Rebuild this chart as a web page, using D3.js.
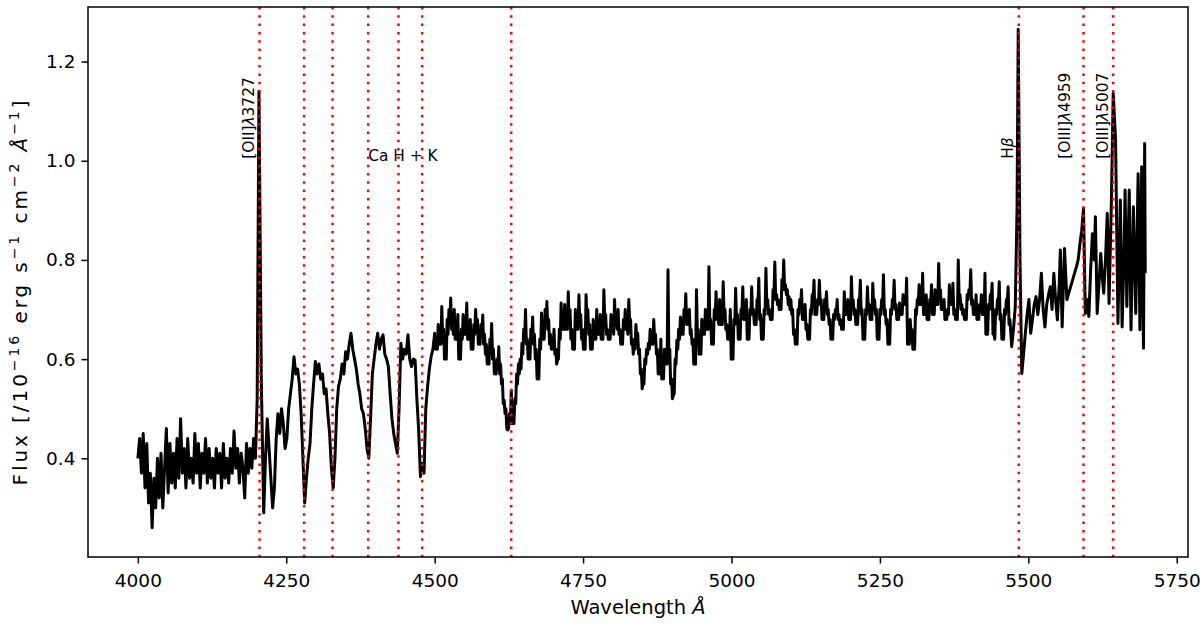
<!DOCTYPE html>
<html><head><meta charset="utf-8">
<script src="https://cdn.jsdelivr.net/npm/d3@7/dist/d3.min.js"></script>
<style>body{margin:0;background:#fff}text{font-family:"DejaVu Sans",sans-serif}</style>
</head><body>
<svg id="chart" width="1200" height="627"></svg>
<script>
// ---- data ----
const xTicks = [4000, 4250, 4500, 4750, 5000, 5250, 5500, 5750];
const yTicks = [0.4, 0.6, 0.8, 1.0, 1.2];
const lineWaves = [4205, 4280, 4328, 4388, 4439, 4479, 4629, 5484, 5593, 5643];
const lineLabels = [["[OII]", "λ", "3727"], ["H", "β", ""], ["[OIII]", "λ", "4959"], ["[OIII]", "λ", "5007"]];
const lineLabelWaves = [4196, 5474, 5570, 5635];
const caLabel = "Ca H + K";
const caLabelWave = 4388;
const labelFlux = 1.0;
// spectrum: [wavelength (Å), flux]
const spectrumMain = [
[4000,.40],[4003,.44],[4006,.37],[4009,.45],[4012,.34],[4015,.43],[4018,.31],[4021,.37],[4024,.26],[4027,.36],
[4030,.30],[4033,.40],[4036,.32],[4039,.41],[4042,.30],[4045,.38],[4048,.46],[4051,.33],[4054,.43],[4057,.35],
[4060,.41],[4063,.34],[4066,.44],[4069,.36],[4072,.48],[4075,.37],[4078,.42],[4081,.34],[4084,.44],[4087,.36],
[4090,.40],[4093,.35],[4096,.45],[4099,.37],[4102,.43],[4105,.34],[4108,.41],[4111,.37],[4114,.44],[4117,.35],
[4120,.42],[4123,.36],[4126,.40],[4129,.34],[4132,.42],[4135,.37],[4138,.41],[4141,.34],[4144,.43],[4147,.36],
[4150,.40],[4153,.35],[4156,.42],[4159,.37],[4162,.455],[4165,.38],[4168,.42],[4171,.35],[4174,.41],[4177,.38],
[4180,.32],[4183,.43],[4186,.37],[4189,.42],[4192,.38],[4195,.44],[4198,.40],[4201,.52],[4204,1.14],[4208,.55],
[4212,.29],[4215,.40],[4218,.48],[4221,.42],[4224,.36],[4227,.30],[4230,.34],[4233,.44],[4236,.49],[4239,.45],
[4242,.50],[4245,.47],[4248,.42],[4251,.44],[4254,.50],[4257,.53],[4260,.56],[4263,.605],[4266,.57],[4269,.58],
[4272,.55],[4275,.49],[4278,.40],[4281,.31],[4284,.36],[4287,.40],[4290,.43],[4293,.50],[4296,.55],[4299,.595],
[4302,.57],[4305,.59],[4308,.56],[4311,.57],[4314,.53],[4317,.54],[4320,.49],[4323,.45],[4326,.38],[4329,.34],
[4332,.40],[4335,.50],[4338,.545],[4341,.56],[4344,.59],[4347,.57],[4350,.615],[4353,.60],[4356,.63],[4359,.652],
[4362,.62],[4365,.60],[4368,.58],[4371,.55],[4374,.53],[4377,.50],[4380,.49],[4383,.46],[4386,.42],[4389,.40],
[4392,.48],[4395,.57],[4398,.60],[4401,.63],[4404,.652],[4407,.62],[4410,.64],[4413,.649],[4416,.61],[4419,.60],
[4422,.585],[4425,.53],[4428,.48],[4431,.45],[4434,.43],[4437,.41],[4440,.50],[4443,.632],[4446,.60],[4449,.62],
[4452,.61],[4455,.649],[4458,.60],[4461,.585],[4464,.60],[4467,.598],[4470,.52],[4473,.457],[4476,.363],[4479,.39],
[4482,.37],[4485,.50],[4488,.544],[4491,.58],[4494,.605],[4497,.62],[4500,.652],[4503,.64],[4506,.67],[4509,.65],
[4512,.706],[4515,.66],[4518,.611],[4521,.68],[4524,.70],[4527,.723],[4530,.68],[4533,.70],[4536,.66],[4539,.69],
[4542,.605],[4545,.66],[4548,.69],[4551,.67],[4554,.713],[4557,.66],[4560,.68],[4563,.632],[4566,.67],[4569,.70],
[4572,.68],[4575,.65],[4578,.67],[4581,.689],[4584,.65],[4587,.63],[4590,.598],[4593,.64],[4596,.672],[4599,.62],
[4602,.578],[4605,.60],[4608,.625],[4611,.59],[4614,.56],[4617,.517],[4620,.50],[4623,.457],[4626,.49],[4629,.537],
[4632,.47],[4635,.52],[4638,.57],[4641,.59],[4644,.60],[4647,.632],[4650,.66],[4653,.70],[4656,.64],[4659,.618],
[4662,.66],[4665,.685],[4668,.65],[4671,.62],[4674,.564],[4677,.64],[4680,.693],[4683,.66],[4686,.70],[4689,.716],
[4692,.68],[4695,.65],[4698,.638],[4701,.66],[4704,.62],[4707,.598],[4710,.66],[4713,.713],[4716,.69],[4719,.71],
[4722,.68],[4725,.736],[4728,.70],[4731,.66],[4734,.632],[4737,.70],[4740,.68],[4743,.73],[4746,.69],[4749,.66],
[4752,.632],[4755,.73],[4758,.70],[4761,.67],[4764,.625],[4767,.68],[4770,.66],[4773,.70],[4776,.67],[4779,.69],
[4782,.652],[4785,.74],[4788,.69],[4791,.66],[4794,.652],[4797,.69],[4800,.67],[4803,.72],[4806,.68],[4809,.70],
[4812,.66],[4815,.638],[4818,.68],[4821,.70],[4824,.67],[4827,.72],[4830,.68],[4833,.64],[4836,.625],[4839,.67],
[4842,.652],[4845,.62],[4848,.58],[4851,.551],[4854,.60],[4857,.62],[4860,.632],[4863,.66],[4866,.64],[4869,.68],
[4872,.65],[4875,.62],[4878,.574],[4881,.64],[4884,.564],[4887,.62],[4890,.60],[4893,.78],[4896,.62],[4899,.56],
[4902,.527],[4905,.60],[4908,.638],[4911,.66],[4914,.685],[4917,.67],[4920,.70],[4923,.732],[4926,.69],[4929,.70],
[4932,.66],[4935,.64],[4938,.591],[4941,.74],[4944,.66],[4947,.618],[4950,.68],[4953,.66],[4956,.70],[4959,.67],
[4962,.786],[4965,.68],[4968,.638],[4971,.70],[4974,.736],[4977,.69],[4980,.72],[4983,.68],[4986,.756],[4989,.70],
[4992,.67],[4995,.652],[4998,.70],[5001,.608],[5004,.68],[5007,.743],[5010,.69],[5013,.652],[5016,.70],[5019,.746],
[5022,.69],[5025,.72],[5028,.652],[5031,.70],[5034,.746],[5037,.70],[5040,.68],[5043,.72],[5046,.763],[5049,.69],
[5052,.649],[5055,.70],[5058,.783],[5061,.72],[5064,.70],[5067,.693],[5070,.74],[5073,.796],[5076,.73],[5079,.72],
[5082,.706],[5085,.76],[5088,.80],[5091,.75],[5094,.74],[5097,.726],[5100,.72],[5103,.70],[5106,.66],[5109,.638],
[5112,.70],[5115,.72],[5118,.74],[5121,.69],[5124,.71],[5127,.67],[5130,.645],[5133,.70],[5136,.73],[5139,.759],
[5142,.70],[5145,.72],[5148,.759],[5151,.72],[5154,.693],[5157,.72],[5160,.736],[5163,.70],[5166,.68],[5169,.649],
[5172,.69],[5175,.70],[5178,.72],[5181,.69],[5184,.68],[5187,.672],[5190,.736],[5193,.70],[5196,.72],[5199,.69],
[5202,.766],[5205,.72],[5208,.70],[5211,.679],[5214,.72],[5217,.759],[5220,.70],[5223,.649],[5226,.70],[5229,.746],
[5232,.71],[5235,.69],[5238,.753],[5241,.72],[5244,.70],[5247,.652],[5250,.70],[5253,.72],[5256,.77],[5259,.70],
[5262,.68],[5265,.638],[5268,.70],[5271,.72],[5274,.759],[5277,.71],[5280,.69],[5283,.713],[5286,.70],[5289,.73],
[5292,.72],[5295,.763],[5298,.638],[5301,.68],[5304,.66],[5307,.632],[5310,.70],[5313,.72],[5316,.75],[5319,.72],
[5322,.773],[5325,.70],[5328,.73],[5331,.69],[5334,.72],[5337,.75],[5340,.70],[5343,.74],[5346,.72],[5349,.793],
[5352,.74],[5355,.71],[5358,.72],[5361,.686],[5364,.70],[5367,.75],[5370,.72],[5373,.753],[5376,.70],[5379,.69],
[5382,.80],[5385,.73],[5388,.71],[5391,.70],[5394,.686],[5397,.73],[5400,.74],[5403,.78],[5406,.72],[5409,.70],
[5412,.73],[5415,.686],[5418,.71],[5421,.73],[5424,.70],[5427,.773],[5430,.66],[5433,.71],[5436,.73],[5439,.753],
[5442,.652],[5445,.70],[5448,.72],[5451,.756],[5454,.69],[5457,.652],[5460,.70],[5463,.72],[5466,.746],[5469,.68],
[5472,.625],[5475,.66],[5478,.706],[5481,.90],[5483,1.265],[5486,.80],[5489,.571],[5492,.61],[5495,.652],[5498,.69],
[5501,.72],[5504,.652],[5507,.68],[5510,.71],[5513,.726],[5516,.69],[5519,.72],[5522,.773],[5525,.70],[5528,.665],
[5531,.71],[5534,.73],[5537,.746],[5540,.70],[5543,.773],[5546,.72],[5549,.679],[5552,.75],[5554,.82],[5557,.665],
[5561,.823],[5565,.72],[5581,.786],[5584,.80],[5587,.833],[5590,.86],[5593,.904],[5596,.692],[5599,.72],[5602,.686],
[5605,.78],[5608,.853],[5611,.80],[5613,.887],[5616,.692],[5619,.75],[5622,.813],[5625,.76],[5627,.733],[5630,.80],
[5633,.894],[5636,.712],[5640,.921],[5643,1.136],[5647,1.042],[5651,.672],[5655,.921],[5658,.665],[5661,.80],[5663,.941],
[5666,.706],[5670,.941],[5673,.659],[5677,.907],[5681,.692],[5685,.974],[5688,.659],[5691,.988],[5694,.622],[5696,1.035],
[5697,.773]
];
// extra noise-floor samples between the main ones (continuum 4500-5470 Å)
const spectrumExtra = [
[4501.5,.62],[4504.5,.62],[4507.5,.63],[4510.5,.63],[4513.5,.64],[4516.5,.60],[4519.5,.60],[4522.5,.65],[4525.5,.67],[4528.5,.66],
[4531.5,.65],[4534.5,.64],[4537.5,.64],[4540.5,.60],[4543.5,.60],[4546.5,.64],[4549.5,.65],[4552.5,.65],[4555.5,.64],[4558.5,.64],
[4561.5,.62],[4564.5,.62],[4567.5,.65],[4570.5,.66],[4573.5,.63],[4576.5,.63],[4579.5,.65],[4582.5,.63],[4585.5,.61],[4588.5,.59],
[4591.5,.59],[4594.5,.62],[4597.5,.60],[4600.5,.57],[4603.5,.57],[4606.5,.58],[4609.5,.57],[4612.5,.55],[4615.5,.51],[4618.5,.49],
[4621.5,.46],[4624.5,.46],[4627.5,.47],[4630.5,.47],[4633.5,.47],[4636.5,.51],[4639.5,.55],[4642.5,.57],[4645.5,.58],[4648.5,.61],
[4651.5,.64],[4654.5,.63],[4657.5,.60],[4660.5,.60],[4663.5,.64],[4666.5,.63],[4669.5,.60],[4672.5,.56],[4675.5,.56],[4678.5,.62],
[4681.5,.64],[4684.5,.64],[4687.5,.67],[4690.5,.66],[4693.5,.63],[4696.5,.62],[4699.5,.62],[4702.5,.61],[4705.5,.59],[4708.5,.60],
[4711.5,.64],[4714.5,.66],[4717.5,.66],[4720.5,.66],[4723.5,.66],[4726.5,.67],[4729.5,.64],[4732.5,.62],[4735.5,.62],[4738.5,.66],
[4741.5,.66],[4744.5,.67],[4747.5,.64],[4750.5,.62],[4753.5,.62],[4756.5,.68],[4759.5,.65],[4762.5,.62],[4765.5,.62],[4768.5,.64],
[4771.5,.64],[4774.5,.65],[4777.5,.65],[4780.5,.64],[4783.5,.64],[4786.5,.68],[4789.5,.65],[4792.5,.64],[4795.5,.64],[4798.5,.66],
[4801.5,.65],[4804.5,.67],[4807.5,.66],[4810.5,.65],[4813.5,.63],[4816.5,.63],[4819.5,.66],[4822.5,.66],[4825.5,.65],[4828.5,.67],
[4831.5,.63],[4834.5,.61],[4837.5,.62],[4840.5,.64],[4843.5,.61],[4846.5,.57],[4849.5,.54],[4852.5,.55],[4855.5,.59],[4858.5,.61],
[4861.5,.62],[4864.5,.63],[4867.5,.63],[4870.5,.64],[4873.5,.61],[4876.5,.57],[4879.5,.57],[4882.5,.56],[4885.5,.56],[4888.5,.59],
[4891.5,.59],[4894.5,.61],[4897.5,.55],[4900.5,.52],[4903.5,.53],[4906.5,.59],[4909.5,.62],[4912.5,.64],[4915.5,.65],[4918.5,.65],
[4921.5,.68],[4924.5,.67],[4927.5,.67],[4930.5,.65],[4933.5,.63],[4936.5,.59],[4939.5,.59],[4942.5,.65],[4945.5,.61],[4948.5,.61],
[4951.5,.65],[4954.5,.65],[4957.5,.66],[4960.5,.66],[4963.5,.67],[4966.5,.63],[4969.5,.63],[4972.5,.68],[4975.5,.68],[4978.5,.67],
[4981.5,.67],[4984.5,.67],[4987.5,.69],[4990.5,.66],[4993.5,.64],[4996.5,.64],[4999.5,.60],[5002.5,.60],[5005.5,.67],[5008.5,.68],
[5011.5,.64],[5014.5,.64],[5017.5,.69],[5020.5,.68],[5023.5,.68],[5026.5,.64],[5029.5,.64],[5032.5,.69],[5035.5,.69],[5038.5,.67],
[5041.5,.67],[5044.5,.71],[5047.5,.68],[5050.5,.64],[5053.5,.64],[5056.5,.69],[5059.5,.71],[5062.5,.69],[5065.5,.68],[5068.5,.68],
[5071.5,.73],[5074.5,.72],[5077.5,.71],[5080.5,.70],[5083.5,.70],[5086.5,.74],[5089.5,.74],[5092.5,.73],[5095.5,.71],[5098.5,.70],
[5101.5,.69],[5104.5,.65],[5107.5,.63],[5110.5,.63],[5113.5,.69],[5116.5,.71],[5119.5,.68],[5122.5,.68],[5125.5,.66],[5128.5,.64],
[5131.5,.64],[5134.5,.69],[5137.5,.72],[5140.5,.69],[5143.5,.69],[5146.5,.71],[5149.5,.71],[5152.5,.68],[5155.5,.68],[5158.5,.71],
[5161.5,.69],[5164.5,.67],[5167.5,.64],[5170.5,.64],[5173.5,.68],[5176.5,.69],[5179.5,.68],[5182.5,.67],[5185.5,.66],[5188.5,.66],
[5191.5,.69],[5194.5,.69],[5197.5,.68],[5200.5,.68],[5203.5,.71],[5206.5,.69],[5209.5,.67],[5212.5,.67],[5215.5,.71],[5218.5,.69],
[5221.5,.64],[5224.5,.64],[5227.5,.69],[5230.5,.70],[5233.5,.68],[5236.5,.68],[5239.5,.71],[5242.5,.69],[5245.5,.64],[5248.5,.64],
[5251.5,.69],[5254.5,.71],[5257.5,.69],[5260.5,.67],[5263.5,.63],[5266.5,.63],[5269.5,.69],[5272.5,.71],[5275.5,.70],[5278.5,.68],
[5281.5,.68],[5284.5,.69],[5287.5,.69],[5290.5,.71],[5293.5,.71],[5296.5,.63],[5299.5,.63],[5302.5,.65],[5305.5,.62],[5308.5,.62],
[5311.5,.69],[5314.5,.71],[5317.5,.71],[5320.5,.71],[5323.5,.69],[5326.5,.69],[5329.5,.68],[5332.5,.68],[5335.5,.71],[5338.5,.69],
[5341.5,.69],[5344.5,.71],[5347.5,.71],[5350.5,.73],[5353.5,.70],[5356.5,.70],[5359.5,.68],[5362.5,.68],[5365.5,.69],[5368.5,.71],
[5371.5,.71],[5374.5,.69],[5377.5,.68],[5380.5,.68],[5383.5,.72],[5386.5,.70],[5389.5,.69],[5392.5,.68],[5395.5,.68],[5398.5,.72],
[5401.5,.73],[5404.5,.71],[5407.5,.69],[5410.5,.69],[5413.5,.68],[5416.5,.68],[5419.5,.70],[5422.5,.69],[5425.5,.69],[5428.5,.65],
[5431.5,.65],[5434.5,.70],[5437.5,.72],[5440.5,.65],[5443.5,.64],[5446.5,.69],[5449.5,.71],[5452.5,.68],[5455.5,.64],[5458.5,.64],
[5461.5,.69],[5464.5,.71],[5467.5,.67]
];
const spectrum = d3.sort(spectrumMain.concat(spectrumExtra), d => d[0]);

// ---- layout ----
const svg = d3.select("#chart");
const L = 88, R = 1188, T = 7, B = 557;
const x = d3.scaleLinear().domain([3916, 5769]).range([L, R]);
const y = d3.scaleLinear().domain([0.201, 1.310]).range([B, T]);

svg.append("defs").append("clipPath").attr("id", "clip")
  .append("rect").attr("x", L).attr("y", T).attr("width", R - L).attr("height", B - T);

const plot = svg.append("g").attr("clip-path", "url(#clip)");

plot.append("path").datum(spectrum)
  .attr("d", d3.line().x(d => x(d[0])).y(d => y(d[1])))
  .attr("fill", "none").attr("stroke", "#000").attr("stroke-width", 3.0)
  .attr("stroke-linejoin", "round");

plot.selectAll("line.vl").data(lineWaves).enter().append("line")
  .attr("class", "vl")
  .attr("x1", d => x(d)).attr("x2", d => x(d))
  .attr("y1", T).attr("y2", B)
  .attr("stroke", "red").attr("stroke-width", 2.5)
  .attr("stroke-dasharray", "2.5 5.8");

// labels
const fsSmall = 15.4;
const rl = svg.selectAll("text.rl").data(lineLabels).enter().append("text")
  .attr("class", "rl")
  .attr("transform", (d, i) => `translate(${x(lineLabelWaves[i])},${y(labelFlux) - 2}) rotate(-90)`)
  .attr("font-size", fsSmall).attr("fill", "#000");
rl.append("tspan").text(d => d[0]);
rl.append("tspan").attr("font-style", "italic").text(d => d[1]);
rl.append("tspan").text(d => d[2]);
svg.append("text").attr("x", x(caLabelWave)).attr("y", y(labelFlux))
  .attr("font-size", fsSmall).attr("fill", "#000").text(caLabel);

// axes
const fsTick = 18.5;
const xAxis = svg.append("g").attr("transform", `translate(0,${B})`)
  .call(d3.axisBottom(x).tickValues(xTicks).tickSize(6.5).tickPadding(6).tickFormat(d3.format("d")));
const yAxis = svg.append("g").attr("transform", `translate(${L},0)`)
  .call(d3.axisLeft(y).tickValues(yTicks).tickSize(6.5).tickPadding(6).tickFormat(d3.format(".1f")));
[xAxis, yAxis].forEach(a => {
  a.select(".domain").remove();
  a.selectAll(".tick line").attr("stroke", "#000").attr("stroke-width", 1.5);
  a.selectAll(".tick text").attr("font-size", fsTick).attr("font-family", "DejaVu Sans").attr("fill", "#000");
});
xAxis.selectAll(".tick text").attr("dy", "0.95em");

svg.append("rect").attr("x", L).attr("y", T).attr("width", R - L).attr("height", B - T)
  .attr("fill", "none").attr("stroke", "#000").attr("stroke-width", 1.5);

// axis titles
svg.append("text").attr("x", (L + R) / 2).attr("y", 614).attr("text-anchor", "middle")
  .attr("font-size", 19.5).attr("fill", "#000")
  .html('Wavelength <tspan font-style="italic">Å</tspan>');
svg.append("text").attr("transform", `translate(27,293) rotate(-90)`)
  .attr("text-anchor", "middle").attr("font-size", 20).attr("fill", "#000")
  .attr("textLength", 385).attr("lengthAdjust", "spacing")
  .html('Flux [/10<tspan baseline-shift="super" font-size="14">−16</tspan> erg s<tspan baseline-shift="super" font-size="14">−1</tspan> cm<tspan baseline-shift="super" font-size="14">−2</tspan> <tspan font-style="italic">Å</tspan><tspan baseline-shift="super" font-size="14">−1</tspan>]');
</script>
</body></html>
